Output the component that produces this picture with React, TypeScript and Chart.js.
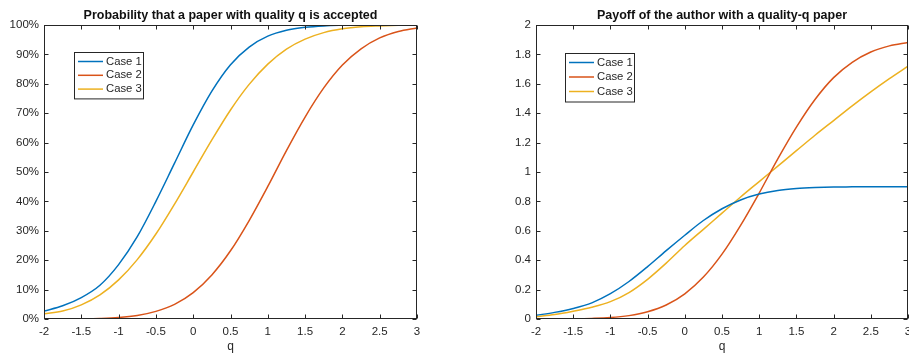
import { useEffect, useRef } from 'react';
import { Chart, registerables } from 'chart.js';

Chart.register(...registerables);

// Paper quality grid
const qValues = [-2, -1.75, -1.5, -1.25, -1, -0.75, -0.5, -0.25, 0, 0.25, 0.5, 0.75, 1, 1.25, 1.5, 1.75, 2, 2.25, 2.5, 2.75, 3];

// Acceptance probability (%)
const acceptCase1 = [2.7, 4.5, 7.3, 11.5, 18.5, 28, 40, 53, 66, 77.5, 86.5, 92.5, 96.2, 98.2, 99.2, 99.7, 99.9, 100, 100, 100, 100];
const acceptCase2 = [0.01, 0.03, 0.08, 0.2, 0.5, 1.2, 2.6, 5.0, 9.0, 15.0, 23.2, 33.5, 45.1, 57.3, 68.7, 78.6, 86.4, 91.9, 95.6, 97.8, 99.0];
const acceptCase3 = [1.8, 2.7, 4.8, 8.2, 13.3, 20.2, 28.9, 39.1, 50, 60.9, 71.1, 79.8, 86.7, 91.8, 95.2, 97.4, 98.7, 99.4, 99.7, 99.9, 100];

// Author payoff
const payoffCase1 = [0.025, 0.045, 0.072, 0.11, 0.172, 0.255, 0.356, 0.465, 0.57, 0.67, 0.75, 0.81, 0.85, 0.874, 0.887, 0.894, 0.898, 0.899, 0.9, 0.9, 0.9];
const payoffCase2 = [0.0002, 0.0006, 0.0015, 0.004, 0.0095, 0.023, 0.049, 0.095, 0.171, 0.285, 0.441, 0.637, 0.857, 1.089, 1.305, 1.493, 1.642, 1.746, 1.816, 1.858, 1.881];
const payoffCase3 = [0.015, 0.03, 0.053, 0.08, 0.118, 0.18, 0.27, 0.38, 0.5, 0.61, 0.72, 0.83, 0.935, 1.04, 1.145, 1.25, 1.35, 1.45, 1.545, 1.635, 1.72];

const caseLabels = ['Case 1', 'Case 2', 'Case 3'];
const caseColors = ['#0072BD', '#D95319', '#EDB120'];

const FONT = '"Liberation Sans", Arial, Helvetica, sans-serif';
const AXIS_COLOR = '#262626';

type PanelSpec = {
  title: string;
  xLabel: string;
  series: number[][];
  yMin: number;
  yMax: number;
  yStep: number;
  yFormat: (v: number) => string;
  yAxisWidth: number;
  padRight: number;
  legendX: number;
  legendY: number;
  legendRowGap: number;
};

// Draws the boxed axes with inward ticks, the title, the x label and the legend box
function decorPlugin(spec: PanelSpec) {
  return {
    id: 'matlabDecor',
    afterDraw(chart: any) {
      const { ctx, chartArea, scales } = chart;
      const { left, right, top, bottom } = chartArea;
      const L = Math.round(left) + 0.5;
      const R = Math.round(right) - 0.5;
      const T = Math.round(top) + 0.5;
      const B = Math.round(bottom) - 0.5;
      ctx.save();
      ctx.strokeStyle = AXIS_COLOR;
      ctx.lineWidth = 1;
      ctx.strokeRect(L, T, R - L, B - T);
      const tl = 4;
      ctx.beginPath();
      for (const t of scales.x.ticks) {
        const px = Math.round(scales.x.getPixelForValue(t.value)) + 0.5;
        ctx.moveTo(px, B);
        ctx.lineTo(px, B - tl);
        ctx.moveTo(px, T);
        ctx.lineTo(px, T + tl);
      }
      for (const t of scales.y.ticks) {
        const py = Math.round(scales.y.getPixelForValue(t.value)) + 0.5;
        ctx.moveTo(L, py);
        ctx.lineTo(L + tl, py);
        ctx.moveTo(R, py);
        ctx.lineTo(R - tl, py);
      }
      ctx.stroke();

      // title
      ctx.fillStyle = '#111';
      ctx.font = `bold 12.5px ${FONT}`;
      ctx.textAlign = 'center';
      ctx.textBaseline = 'middle';
      ctx.fillText(spec.title, (left + right) / 2, 16);

      // x axis label
      ctx.fillStyle = AXIS_COLOR;
      ctx.font = `12px ${FONT}`;
      ctx.fillText(spec.xLabel, (left + right) / 2, 347);

      // legend
      const bx = spec.legendX + 0.5;
      const by = spec.legendY + 0.5;
      const bw = 69;
      const bh = spec.legendRowGap * 3 + 5;
      ctx.fillStyle = '#fff';
      ctx.fillRect(bx, by, bw, bh);
      ctx.strokeStyle = AXIS_COLOR;
      ctx.strokeRect(bx, by, bw, bh);
      ctx.font = `11.3px ${FONT}`;
      ctx.textAlign = 'left';
      ctx.textBaseline = 'middle';
      caseLabels.forEach((label, i) => {
        const ry = spec.legendY + 9.5 + i * spec.legendRowGap;
        ctx.strokeStyle = caseColors[i];
        ctx.lineWidth = 1.5;
        ctx.beginPath();
        ctx.moveTo(spec.legendX + 4, ry);
        ctx.lineTo(spec.legendX + 29, ry);
        ctx.stroke();
        ctx.fillStyle = AXIS_COLOR;
        ctx.fillText(label, spec.legendX + 32, ry);
      });
      ctx.restore();
    },
  };
}

function Panel({ spec, left, width }: { spec: PanelSpec; left: number; width: number }) {
  const ref = useRef<HTMLCanvasElement | null>(null);
  useEffect(() => {
    if (!ref.current) return;
    const chart = new Chart(ref.current, {
      type: 'line',
      data: {
        datasets: spec.series.map((vals, i) => ({
          label: caseLabels[i],
          data: qValues.map((q, j) => ({ x: q, y: vals[j] })),
          borderColor: caseColors[i],
          backgroundColor: caseColors[i],
          borderWidth: 1.5,
          pointRadius: 0,
          cubicInterpolationMode: 'monotone' as const,
          fill: false,
        })),
      },
      options: {
        animation: false,
        responsive: false,
        maintainAspectRatio: false,
        layout: { padding: { top: 25, right: spec.padRight, left: 0, bottom: 0 } },
        plugins: { legend: { display: false }, tooltip: { enabled: false }, title: { display: false } },
        scales: {
          x: {
            type: 'linear',
            min: -2,
            max: 3,
            grid: { display: false, drawTicks: false },
            border: { display: false },
            ticks: {
              stepSize: 0.5,
              padding: 6,
              maxRotation: 0,
              autoSkip: false,
              color: AXIS_COLOR,
              font: { family: FONT, size: 11.5 },
              callback: (v: any) => String(Math.round(Number(v) * 10) / 10),
            },
            afterFit: (s: any) => {
              s.height = 35;
              s.paddingLeft = 0;
              s.paddingRight = 0;
            },
          },
          y: {
            type: 'linear',
            min: spec.yMin,
            max: spec.yMax,
            grid: { display: false, drawTicks: false },
            border: { display: false },
            ticks: {
              stepSize: spec.yStep,
              padding: 5,
              autoSkip: false,
              color: AXIS_COLOR,
              font: { family: FONT, size: 11.5 },
              callback: (v: any) => spec.yFormat(Number(v)),
            },
            afterFit: (s: any) => {
              s.width = spec.yAxisWidth;
              s.paddingTop = 0;
              s.paddingBottom = 0;
            },
          },
        },
      },
      plugins: [decorPlugin(spec)],
    });
    return () => chart.destroy();
  }, [spec]);
  return (
    <canvas
      ref={ref}
      width={width}
      height={354}
      style={{ position: 'absolute', left, top: 0, width, height: 354 }}
    />
  );
}

const acceptSpec: PanelSpec = {
  title: 'Probability that a paper with quality q is accepted',
  xLabel: 'q',
  series: [acceptCase1, acceptCase2, acceptCase3],
  yMin: 0,
  yMax: 100,
  yStep: 10,
  yFormat: (v) => `${Math.round(v)}%`,
  yAxisWidth: 44,
  padRight: 38,
  legendX: 74,
  legendY: 52,
  legendRowGap: 13.8,
};

const payoffSpec: PanelSpec = {
  title: 'Payoff of the author with a quality-q paper',
  xLabel: 'q',
  series: [payoffCase1, payoffCase2, payoffCase3],
  yMin: 0,
  yMax: 2,
  yStep: 0.2,
  yFormat: (v) => String(Math.round(v * 10) / 10),
  yAxisWidth: 81,
  padRight: 1,
  legendX: 110,
  legendY: 53,
  legendRowGap: 14.5,
};

export default function App() {
  return (
    <div style={{ position: 'fixed', left: 0, top: 0, width: 909, height: 354, background: '#fff', overflow: 'hidden' }}>
      <Panel spec={acceptSpec} left={0} width={455} />
      <Panel spec={payoffSpec} left={455} width={454} />
    </div>
  );
}
